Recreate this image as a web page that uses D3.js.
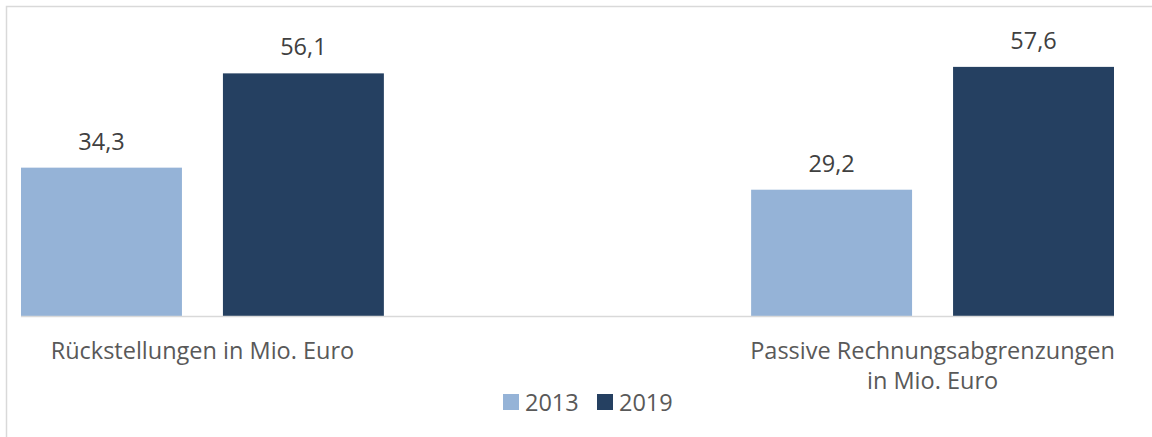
<!DOCTYPE html>
<html>
<head>
<meta charset="utf-8">
<script src="https://cdn.jsdelivr.net/npm/d3@7"></script>
<style>
  html, body { margin: 0; padding: 0; background: #fff; }
  svg { display: block; font-family: "Open Sans", sans-serif; }
</style>
</head>
<body>
<div id="chart"></div>
<script>
// DATA //
var categories = [ [ 'Rückstellungen in Mio. Euro' ], [ 'Passive Rechnungsabgrenzungen', 'in Mio. Euro' ] ],
	series = [ '2013', '2019' ],
	values2013 = [ 34.3, 29.2 ],
	values2019 = [ 56.1, 57.6 ],
	colors = [ '#95b3d7', '#254061' ];

var W = 1152,
	H = 437,
	baseY = 316,
	left = 21,
	right = 1114,
	fs = 23.5;

var svg = d3.select( '#chart' ).append( 'svg' )
	.attr( 'width', W )
	.attr( 'height', H );

// Chart frame:
svg.append( 'rect' )
	.attr( 'x', 6.5 )
	.attr( 'y', 6.5 )
	.attr( 'width', W + 10 )
	.attr( 'height', H + 10 )
	.attr( 'fill', 'none' )
	.attr( 'stroke', '#d9d9d9' )
	.attr( 'stroke-width', 1.5 );

var keys = categories.map( function ( d, i ) { return i; } );

var x0 = d3.scaleBand()
	.domain( keys )
	.range( [ left, right ] )
	.paddingInner( 0.503 )
	.paddingOuter( 0 );

var x1 = d3.scaleBand()
	.domain( series )
	.range( [ 0, x0.bandwidth() ] )
	.paddingInner( 0.203 );

var y = d3.scaleLinear()
	.domain( [ 0, 70 ] )
	.range( [ baseY, baseY - 70 * 4.325 ] );

var rows = keys.map( function ( i ) {
	return [ values2013[ i ], values2019[ i ] ];
});

var groups = svg.selectAll( 'g.group' )
	.data( rows )
  .enter().append( 'g' )
	.attr( 'class', 'group' )
	.attr( 'transform', function ( d, i ) { return 'translate(' + x0( i ) + ',0)'; } );

groups.selectAll( 'rect' )
	.data( function ( d ) { return d; } )
  .enter().append( 'rect' )
	.attr( 'x', function ( d, j ) { return x1( series[ j ] ); } )
	.attr( 'y', function ( d ) { return y( d ); } )
	.attr( 'width', x1.bandwidth() )
	.attr( 'height', function ( d ) { return baseY - y( d ); } )
	.attr( 'fill', function ( d, j ) { return colors[ j ]; } );

// Data labels:
groups.selectAll( 'text.lbl' )
	.data( function ( d ) { return d; } )
  .enter().append( 'text' )
	.attr( 'class', 'lbl' )
	.attr( 'x', function ( d, j ) { return x1( series[ j ] ) + x1.bandwidth() / 2; } )
	.attr( 'y', function ( d ) { return y( d ) - 18; } )
	.attr( 'text-anchor', 'middle' )
	.attr( 'font-size', fs )
	.attr( 'fill', '#404040' )
	.text( function ( d ) { return d.toFixed( 1 ).replace( '.', ',' ); } );

// Axis line:
svg.append( 'line' )
	.attr( 'x1', left )
	.attr( 'x2', right )
	.attr( 'y1', baseY + 0.5 )
	.attr( 'y2', baseY + 0.5 )
	.attr( 'stroke', '#d9d9d9' )
	.attr( 'stroke-width', 1.5 );

// Category labels:
svg.selectAll( 'text.cat' )
	.data( categories )
  .enter().append( 'text' )
	.attr( 'class', 'cat' )
	.attr( 'x', function ( d, i ) { return x0( i ) + x0.bandwidth() / 2; } )
	.attr( 'y', 359 )
	.attr( 'text-anchor', 'middle' )
	.attr( 'font-size', fs )
	.attr( 'fill', '#595959' )
	.each( function ( d ) {
		var t = d3.select( this );
		d.forEach( function ( line, k ) {
			t.append( 'tspan' )
				.attr( 'x', t.attr( 'x' ) )
				.attr( 'dy', k === 0 ? 0 : 30 )
				.text( line );
		});
	});

// Legend:
var legend = svg.selectAll( 'g.legend' )
	.data( series )
  .enter().append( 'g' )
	.attr( 'class', 'legend' )
	.attr( 'transform', function ( d, i ) { return 'translate(' + ( 503 + i * 94 ) + ',394)'; } );

legend.append( 'rect' )
	.attr( 'width', 16 )
	.attr( 'height', 16 )
	.attr( 'fill', function ( d, i ) { return colors[ i ]; } );

legend.append( 'text' )
	.attr( 'x', 22 )
	.attr( 'y', 16.5 )
	.attr( 'font-size', fs )
	.attr( 'fill', '#595959' )
	.text( function ( d ) { return d; } );
</script>
</body>
</html>
